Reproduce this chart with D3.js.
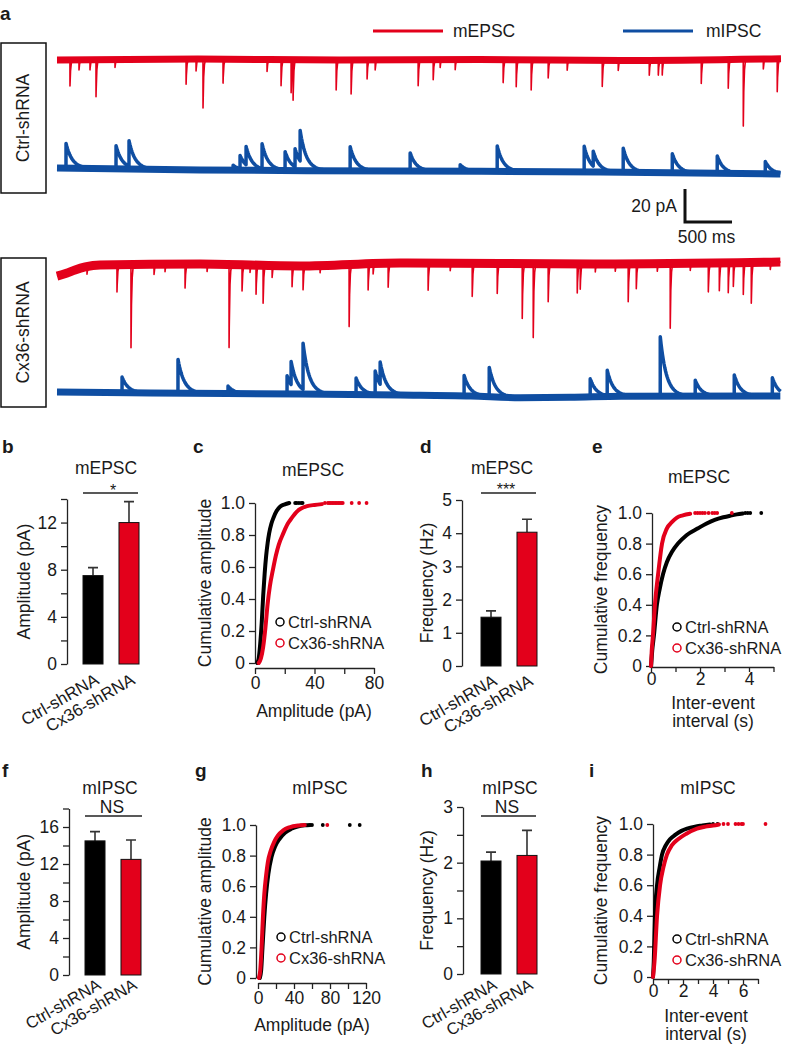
<!DOCTYPE html>
<html>
<head>
<meta charset="utf-8">
<script src="https://cdn.jsdelivr.net/npm/d3@7/dist/d3.min.js"></script>
<style>
html,body{margin:0;padding:0;background:#fff;}
svg{display:block;}
text{font-family:"Liberation Sans",Arial,Helvetica,sans-serif;fill:#1a1a1a;}
</style>
</head>
<body>
<svg id="fig" width="788" height="1045"></svg>
<script>
// ================= DATA =================
const groups = ["Ctrl-shRNA", "Cx36-shRNA"];
const traceLegend = ["mEPSC", "mIPSC"];
const scaleBarLabels = ["20 pA", "500 ms"];
const scaleBarValues = [20, 500]; // pA, ms

// bar charts: mean and SEM
const mepscAmpMean = [7.5, 12.0];
const mepscAmpSem = [0.68, 1.78];
const mepscFreqMean = [1.47, 4.03];
const mepscFreqSem = [0.19, 0.39];
const mipscAmpMean = [14.5, 12.5];
const mipscAmpSem = [1.0, 2.1];
const mipscFreqMean = [2.03, 2.13];
const mipscFreqSem = [0.16, 0.45];

// tick values
const ticksB = [0, 2, 4, 6, 8, 10, 12, 14], labelsB = [0, 4, 8, 12];
const ticksD = [0, 1, 2, 3, 4, 5], labelsD = [0, 1, 2, 3, 4, 5];
const ticksF = [0, 2, 4, 6, 8, 10, 12, 14, 16, 18], labelsF = [0, 4, 8, 12, 16];
const ticksH = [0, 0.5, 1, 1.5, 2, 2.5, 3], labelsH = [0, 1, 2, 3];
const cumTicks = [0, 0.2, 0.4, 0.6, 0.8, 1.0];
const ticksCx = [0, 20, 40, 60, 80], labelsCx = [0, 40, 80];
const ticksEx = [0, 1, 2, 3, 4, 5], labelsEx = [0, 2, 4];
const ticksGx = [0, 20, 40, 60, 80, 100, 120], labelsGx = [0, 40, 80, 120];
const ticksIx = [0, 1, 2, 3, 4, 5, 6, 7], labelsIx = [0, 2, 4, 6];

// cumulative distributions [value, cumulative fraction]
const cdfMepscAmpCtrl = [[1.5,0],[2.5,0.03],[3.5,0.12],[4.5,0.25],[5.5,0.42],[6.5,0.56],[7.5,0.67],[8.5,0.75],[9.5,0.81],[11,0.87],[12.5,0.91],[14.5,0.95],[17,0.978],[20,0.992],[23,1]];
const tailMepscAmpCtrl = [27, 28, 29.5, 31, 32];
const cdfMepscAmpCx = [[2.5,0],[4,0.03],[5.5,0.1],[7,0.22],[8.5,0.37],[10,0.48],[12,0.58],[14,0.67],[16,0.74],[19,0.81],[22,0.87],[25,0.91],[28,0.945],[31,0.965],[35,0.98],[40,0.988],[45,0.993]];
const tailMepscAmpCx = [47, 49, 50, 51, 52, 53, 54, 55, 56, 57, 58, 59, 65, 70, 75];

const cdfMepscIeiCtrl = [[0,0],[0.05,0.1],[0.12,0.2],[0.24,0.4],[0.35,0.5],[0.49,0.6],[0.65,0.68],[0.85,0.745],[1.1,0.8],[1.45,0.855],[1.92,0.9],[2.25,0.93],[2.6,0.955],[2.95,0.972],[3.25,0.983],[3.5,0.991],[3.75,0.997]];
const tailMepscIeiCtrl = [3.85, 3.95, 4.05, 4.5];
const cdfMepscIeiCx = [[0,0],[0.03,0.1],[0.08,0.2],[0.16,0.4],[0.29,0.6],[0.45,0.8],[0.65,0.9],[0.85,0.94],[1.06,0.97],[1.3,0.985],[1.6,0.995]];
const tailMepscIeiCx = [1.8, 1.9, 2.0, 2.1, 2.2, 2.35, 2.5, 2.6, 2.7, 3.3];

const cdfMipscAmpCtrl = [[2,0],[3.5,0.05],[5,0.2],[7,0.4],[9,0.55],[11.5,0.68],[15,0.79],[19,0.86],[24,0.91],[30,0.95],[37,0.975],[44,0.99],[52,0.998],[58,1]];
const tailMipscAmpCtrl = [60, 72, 102, 113];
const cdfMipscAmpCx = [[1,0],[2.5,0.05],[4,0.2],[5.5,0.4],[7,0.55],[9,0.67],[11,0.76],[14,0.83],[18,0.89],[22,0.93],[28,0.965],[35,0.985],[45,0.997],[52,1]];
const tailMipscAmpCx = [77];

const cdfMipscIeiCtrl = [[0,0],[0.05,0.1],[0.13,0.4],[0.27,0.6],[0.45,0.72],[0.6,0.8],[0.85,0.86],[1.13,0.9],[1.5,0.93],[1.9,0.955],[2.27,0.97],[2.8,0.983],[3.3,0.99],[3.8,0.997]];
const tailMipscIeiCtrl = [4.0, 4.3];
const cdfMipscIeiCx = [[0,0],[0.1,0.1],[0.27,0.4],[0.47,0.6],[0.7,0.72],[0.93,0.8],[1.25,0.86],[1.67,0.9],[2.2,0.935],[2.93,0.97],[3.5,0.983],[4.0,0.99],[4.4,0.997]];
const tailMipscIeiCx = [4.7, 5.0, 5.5, 5.7, 5.9, 6.0, 7.5];

// example traces: events [time ms, amplitude pA], baseline drift [time ms, pA]
const traceDuration = 7700;
const ctrlEpscEvents = [[138,-15.8],[234,-6.1],[351,-6.1],[415,-22.4],[617,-4.8],[1373,-15.2],[1479,-7.3],[1553,-29.7],[1766,-14.5],[2234,-7.3],[2383,-15.8],[2490,-20],[2511,-23.6],[2969,-18.2],[3128,-20.6],[3298,-11.5],[3384,-6.1],[3841,-15.8],[4001,-12.1],[4075,-4.8],[4235,-6.1],[4745,-13.9],[4884,-16.4],[5043,-18.2],[5224,-10.9],[5426,-6.1],[5799,-15.8],[5969,-6.1],[6299,-9.1],[6395,-9.1],[6437,-9.1],[6852,-14.5],[7139,-17.6],[7299,-40.6],[7512,-6.1],[7660,-20]];
const ctrlEpscBaseline = [[0,0],[1500,0.6],[3000,0],[4500,0.3],[6000,-0.3],[7700,0.8]];
const ctrlIpscEvents = [[96,15],[628,14],[766,15.5],[1873,3],[1947,8],[2011,11],[2181,15],[2426,11],[2532,11],[2586,18.5],[3118,14.5],[3756,11],[4288,4],[4682,15.5],[5607,15.5],[5703,9],[6022,14.5],[6544,11.5],[7022,10.5],[7533,7.5]];
const ctrlIpscBaseline = [[0,1.2],[1522,0],[3650,-0.6],[5778,-1.2],[7693,-2.4]];
const cxEpscEvents = [[319,-4.5],[638,-16.4],[787,-50.3],[1032,-6.1],[1149,-4.5],[1362,-14.5],[1596,-4.5],[1830,-50.3],[1968,-15.8],[2053,-4.5],[2117,-17.6],[2192,-23],[2288,-7.3],[2500,-12.7],[2617,-14.5],[2798,-4.5],[3107,-37.6],[3309,-15.8],[3362,-6.1],[3522,-14.5],[3947,-16.4],[4182,-4.5],[4416,-20],[4682,-18.2],[4948,-33.3],[5065,-44.8],[5224,-23],[5533,-17.6],[5565,-15.2],[5725,-4.8],[5937,-4.5],[6075,-23],[6161,-15.2],[6384,-4.8],[6522,-39.4],[6735,-4.5],[6927,-17.6],[7044,-17],[7139,-18.2],[7193,-14.5],[7299,-19.4],[7384,-24.8],[7586,-4.5]];
const cxEpscBaseline = [[0,-6.7],[100,-5],[192,-3],[300,-1.2],[458,0],[1522,0.6],[2586,-0.6],[3650,1.2],[5778,0.6],[7693,1.8]];
const cxIpscEvents = [[692,9.5],[1287,20.5],[1819,4.5],[2447,11],[2490,14],[2617,28],[3181,10],[3384,14],[3437,13.5],[4330,12.3],[4597,17.5],[5671,11],[5852,15.2],[6416,36],[6788,9.5],[7203,12.8],[7608,11]];
const cxIpscBaseline = [[0,1.8],[990,1.2],[2586,0.6],[3650,0],[4400,-0.6],[4926,-1.6],[5458,-1.4],[6000,-0.7],[7693,-0.6]];

// ================= DRAWING =================
const RED = "#e3001b", BLUE = "#0f4ea2", INK = "#1a1a1a";
const FONT = '"Liberation Sans", Arial, Helvetica, sans-serif';
const svg = d3.select("#fig");

function txt(x, y, s, opts = {}) {
  const t = svg.append("text").attr("x", x).attr("y", y).text(s)
    .attr("font-size", opts.size || 17)
    .attr("text-anchor", opts.anchor || "start")
    .attr("font-weight", opts.weight || "normal");
  if (opts.fill) t.attr("fill", opts.fill);
  return t;
}
function rotLabel(x, y, s, size) {
  svg.append("text").attr("transform", `translate(${x},${y}) rotate(-90)`)
    .attr("text-anchor", "middle").attr("dy", "0.33em")
    .attr("font-size", size || 17).text(s);
}
function styleAxis(g) {
  g.attr("font-family", FONT).attr("font-size", 17.5);
  g.select(".domain").attr("stroke", "#222").attr("stroke-width", 1.3);
  g.selectAll(".tick line").attr("stroke", "#222").attr("stroke-width", 1.3);
  g.selectAll(".tick text").attr("fill", INK);
}

// panel letters
[["a", 0, 20], ["b", 2, 453], ["c", 193, 453], ["d", 420, 453], ["e", 592, 453],
 ["f", 2, 777], ["g", 195, 777], ["h", 421, 777], ["i", 589, 777]]
  .forEach(([s, x, y]) => txt(x, y, s, { size: 19, weight: "bold" }));

// ---------- panel a ----------
const xT = d3.scaleLinear().domain([0, traceDuration]).range([57, 781]);
const yT = d3.scaleLinear().domain([0, 20]).range([0, -33]);

function buildTrace(baseline, events, tau) {
  const base = d3.scaleLinear().domain(baseline.map(d => d[0])).range(baseline.map(d => d[1])).clamp(true);
  const ts = d3.range(0, traceDuration + 1, 8);
  events.forEach(e => { ts.push(e[0] - 0.5, e[0]); });
  ts.sort(d3.ascending);
  return ts.map(t => {
    let v = base(t);
    for (const [t0, a] of events) {
      const dt = t - t0;
      if (dt >= 0 && dt < tau * 10) v += a * Math.exp(-dt / tau);
    }
    return [t, v];
  });
}
const traceLine = d3.line().x(d => xT(d[0])).y(d => yT(d[1])).curve(d3.curveLinear);
const baseLine = d3.line().x(d => xT(d[0])).y(d => yT(d[1])).curve(d3.curveMonotoneX);
function drawTrace(y0, baseline, events, tau, color, width, band) {
  const g = svg.append("g").attr("transform", `translate(0,${y0})`);
  g.append("path").datum(baseline).attr("d", baseLine).attr("fill", "none")
    .attr("stroke", color).attr("stroke-width", band).attr("stroke-linejoin", "round");
  g.append("path").datum(buildTrace(baseline, events, tau)).attr("d", traceLine)
    .attr("fill", "none").attr("stroke", color).attr("stroke-width", width).attr("stroke-linejoin", "round");
}
drawTrace(60, ctrlEpscBaseline, ctrlEpscEvents, 7, RED, 1.6, 7);
drawTrace(170, ctrlIpscBaseline, ctrlIpscEvents, 65, BLUE, 3.5, 7);
drawTrace(265, cxEpscBaseline, cxEpscEvents, 7, RED, 1.6, 9);
drawTrace(395, cxIpscBaseline, cxIpscEvents, 65, BLUE, 3.5, 7);

// legend
svg.append("line").attr("x1", 373).attr("x2", 443).attr("y1", 31).attr("y2", 31).attr("stroke", RED).attr("stroke-width", 3);
txt(453, 37, traceLegend[0], { size: 17.5 });
svg.append("line").attr("x1", 623).attr("x2", 693).attr("y1", 31).attr("y2", 31).attr("stroke", BLUE).attr("stroke-width", 3);
txt(706, 37, traceLegend[1], { size: 17.5 });

// condition boxes
[[groups[0], 43, 150], [groups[1], 258, 149]].forEach(([s, y, h]) => {
  svg.append("rect").attr("x", 1).attr("y", y).attr("width", 45).attr("height", h)
    .attr("fill", "none").attr("stroke", "#111").attr("stroke-width", 1.5);
  rotLabel(23.5, y + h / 2, s, 17.5);
});

// scale bar
{
  const sx = 685, sy = 222;
  const w = xT(scaleBarValues[1]) - xT(0), h = -yT(scaleBarValues[0]);
  svg.append("path").attr("d", `M${sx},${sy - h}V${sy}H${sx + w}`).attr("fill", "none")
    .attr("stroke", "#111").attr("stroke-width", 3);
  txt(sx - 8, 212, scaleBarLabels[0], { anchor: "end", size: 17.5 });
  txt(sx + w / 2 - 2, 243, scaleBarLabels[1], { anchor: "middle", size: 17.5 });
}

// ---------- bar panels ----------
function barPanel(c, means, sems) {
  const x = d3.scaleBand().domain(groups).range(c.xr).paddingInner(0.444).paddingOuter(0);
  const y = d3.scaleLinear().domain(c.yd).range(c.yr);
  const ax = svg.append("g").attr("transform", `translate(${c.ax},0)`)
    .call(d3.axisLeft(y).tickValues(c.ticks).tickSize(6).tickSizeOuter(0).tickPadding(4)
      .tickFormat(d => c.labels.includes(d) ? d3.format("")(d) : ""));
  styleAxis(ax);
  const data = groups.map((g, i) => ({ g, m: means[i], s: sems[i], col: i ? RED : "#000" }));
  const bw = x.bandwidth();
  data.forEach(d => {
    const cx = x(d.g) + bw / 2;
    svg.append("path").attr("d", `M${cx},${y(d.m)}V${y(d.m + d.s)}M${cx - 5},${y(d.m + d.s)}H${cx + 5}`)
      .attr("stroke", "#333").attr("stroke-width", 1.6).attr("fill", "none");
  });
  svg.selectAll(null).data(data).enter().append("rect")
    .attr("x", d => x(d.g)).attr("width", bw)
    .attr("y", d => y(d.m)).attr("height", d => y(0) - y(d.m))
    .attr("fill", d => d.col).attr("stroke", "#111").attr("stroke-width", 1);
  // significance
  svg.append("line").attr("x1", c.sigX[0]).attr("x2", c.sigX[1]).attr("y1", c.sigY).attr("y2", c.sigY)
    .attr("stroke", "#222").attr("stroke-width", 1.3);
  txt(c.sigTX, c.sigTY, c.sig, { anchor: "middle", size: c.sigSize || 17.5 });
  txt(c.titleX, c.titleY, c.title, { anchor: "middle", size: 17.5 });
  rotLabel(c.ylx, (c.yr[0] + c.yr[1]) / 2, c.ylabel, 17.5);
  // categories
  groups.forEach(g => {
    svg.append("text").attr("transform", `translate(${x(g) + bw / 2 + 7},${c.yr[0] + c.catDy}) rotate(-30)`)
      .attr("text-anchor", "end").attr("font-size", c.catSize || 17).text(g);
  });
}
barPanel({ xr: [83, 139], ax: 67, yd: [0, 14], yr: [664, 499], ticks: ticksB, labels: labelsB,
  sigX: [83, 138], sigY: 493, sig: "*", sigTX: 113, sigTY: 496, sigSize: 16,
  title: "mEPSC", titleX: 106, titleY: 474, ylabel: "Amplitude (pA)", ylx: 24, catDy: 19 },
  mepscAmpMean, mepscAmpSem);
barPanel({ xr: [481, 537], ax: 462, yd: [0, 5], yr: [666, 500], ticks: ticksD, labels: labelsD,
  sigX: [481, 536], sigY: 493, sig: "***", sigTX: 506, sigTY: 495, sigSize: 16,
  title: "mEPSC", titleX: 502, titleY: 474, ylabel: "Frequency (Hz)", ylx: 427, catDy: 18 },
  mepscFreqMean, mepscFreqSem);
barPanel({ xr: [85, 141], ax: 69, yd: [0, 18], yr: [975, 808.5], ticks: ticksF, labels: labelsF,
  sigX: [85, 142], sigY: 816, sig: "NS", sigTX: 112, sigTY: 813,
  title: "mIPSC", titleX: 110, titleY: 794, ylabel: "Amplitude (pA)", ylx: 24, catDy: 13, catSize: 16.5 },
  mipscAmpMean, mipscAmpSem);
barPanel({ xr: [481, 537], ax: 463, yd: [0, 3], yr: [974, 807], ticks: ticksH, labels: labelsH,
  sigX: [481, 536], sigY: 816, sig: "NS", sigTX: 507, sigTY: 813,
  title: "mIPSC", titleX: 510, titleY: 794, ylabel: "Frequency (Hz)", ylx: 427, catDy: 14, catSize: 16.5 },
  mipscFreqMean, mipscFreqSem);

// ---------- cumulative panels ----------
function cdfPanel(c, ctrl, ctrlTail, cx, cxTail) {
  const x = d3.scaleLinear().domain(c.xd).range(c.xr);
  const y = d3.scaleLinear().domain([0, 1]).range(c.yr);
  const ay = svg.append("g").attr("transform", `translate(${c.yAxisX},0)`)
    .call(d3.axisLeft(y).tickValues(cumTicks).tickSize(6).tickSizeOuter(0).tickPadding(4)
      .tickFormat(d => d === 0 ? "0" : d3.format(".1f")(d)));
  styleAxis(ay);
  const axx = svg.append("g").attr("transform", `translate(0,${c.xAxisY})`)
    .call(d3.axisBottom(x).tickValues(c.xticks).tickSize(c.xTickSize || 6).tickSizeOuter(0).tickPadding(c.xPad || 3)
      .tickFormat(d => c.xlabels.includes(d) ? d3.format("")(d) : ""));
  styleAxis(axx);
  const line = d3.line().x(d => x(d[0])).y(d => y(d[1])).curve(d3.curveMonotoneX);
  [[ctrl, ctrlTail, "#000"], [cx, cxTail, RED]].forEach(([arr, tail, col]) => {
    svg.append("path").datum(arr).attr("d", line).attr("fill", "none")
      .attr("stroke", col).attr("stroke-width", 4).attr("stroke-linecap", "round").attr("stroke-linejoin", "round");
    svg.selectAll(null).data(tail).enter().append("circle")
      .attr("cx", d => x(d)).attr("cy", y(1)).attr("r", 1.9).attr("fill", col);
  });
  // legend
  groups.forEach((g, i) => {
    svg.append("circle").attr("cx", c.legX).attr("cy", c.legY[i]).attr("r", 4)
      .attr("fill", "none").attr("stroke", i ? RED : "#000").attr("stroke-width", 1.5);
    txt(c.legX + 8, c.legY[i] + 6, g, { size: 16.5 });
  });
  txt(c.titleX, c.titleY, c.title, { anchor: "middle", size: 17.5 });
  rotLabel(c.ylx, (c.yr[0] + c.yr[1]) / 2, c.ylabel, 17.5);
  c.xtitle.forEach((s, i) => txt(c.xtX, c.xtY[i], s, { anchor: "middle", size: 17.5 }));
}
cdfPanel({ xd: [0, 80], xr: [255, 374], yr: [663, 503], yAxisX: 255, xAxisY: 668,
  xticks: ticksCx, xlabels: labelsCx, legX: 280, legY: [622, 643],
  title: "mEPSC", titleX: 313, titleY: 476, ylabel: "Cumulative amplitude", ylx: 205,
  xtitle: ["Amplitude (pA)"], xtX: 314, xtY: [717] },
  cdfMepscAmpCtrl, tailMepscAmpCtrl, cdfMepscAmpCx, tailMepscAmpCx);
cdfPanel({ xd: [0, 5], xr: [651, 773.5], yr: [666, 513], yAxisX: 652, xAxisY: 667,
  xTickSize: 5, xPad: 1,
  xticks: ticksEx, xlabels: labelsEx, legX: 677, legY: [627, 648],
  title: "mEPSC", titleX: 699, titleY: 483, ylabel: "Cumulative frequency", ylx: 601,
  xtitle: ["Inter-event", "interval (s)"], xtX: 713, xtY: [709, 727] },
  cdfMepscIeiCtrl, tailMepscIeiCtrl, cdfMepscIeiCx, tailMepscIeiCx);
cdfPanel({ xd: [0, 120], xr: [258, 366], yr: [978, 825], yAxisX: 256, xAxisY: 983,
  xticks: ticksGx, xlabels: labelsGx, legX: 281, legY: [937, 958],
  title: "mIPSC", titleX: 320, titleY: 794, ylabel: "Cumulative amplitude", ylx: 205,
  xtitle: ["Amplitude (pA)"], xtX: 312, xtY: [1031] },
  cdfMipscAmpCtrl, tailMipscAmpCtrl, cdfMipscAmpCx, tailMipscAmpCx);
cdfPanel({ xd: [0, 7], xr: [653, 758], yr: [977, 824], yAxisX: 653, xAxisY: 979,
  xTickSize: 5, xPad: 1,
  xticks: ticksIx, xlabels: labelsIx, legX: 677, legY: [939, 960],
  title: "mIPSC", titleX: 708, titleY: 794, ylabel: "Cumulative frequency", ylx: 601,
  xtitle: ["Inter-event", "interval (s)"], xtX: 706, xtY: [1022, 1040] },
  cdfMipscIeiCtrl, tailMipscIeiCtrl, cdfMipscIeiCx, tailMipscIeiCx);
</script>
</body>
</html>
